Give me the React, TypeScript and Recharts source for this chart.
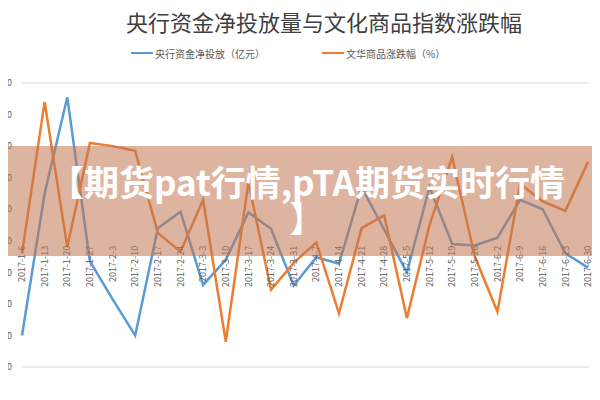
import React from 'react';
import { LineChart, Line, XAxis, YAxis, CartesianGrid } from 'recharts';

const categories = [
  '2017-1-6', '2017-1-13', '2017-1-20', '2017-1-27', '2017-2-3', '2017-2-10',
  '2017-2-17', '2017-2-24', '2017-3-3', '2017-3-10', '2017-3-17', '2017-3-24',
  '2017-3-31', '2017-4-7', '2017-4-14', '2017-4-21', '2017-4-28', '2017-5-5',
  '2017-5-12', '2017-5-19', '2017-5-26', '2017-6-2', '2017-6-9', '2017-6-16',
  '2017-6-23', '2017-6-30',
];

const netInjection = [
  -3000, 1500, 4550, -650, -1850, -3000,
  400, 920, -1400, -600, 900, 380,
  -1420, -520, -730, 1700, 350, -1000,
  1700, -100, -150, 100, 1300, 1000,
  -400, -850,
];

const commodityChange = [
  -0.4, 4.4, -0.2, 3.1, 3.0, 2.85,
  0.25, -0.35, 1.3, -3.2, 1.85, -1.55,
  -0.7, -0.05, -2.3, 0.4, 0.8, -2.45,
  0.5, 2.65, -0.5, -2.25, 1.8, 1.25,
  0.95, 2.5,
];

const leftTicks = [-4000, -3000, -2000, -1000, 0, 1000, 2000, 3000, 4000, 5000];
const rightTicks = [-4, -3, -2, -1, 0, 1, 2, 3, 4, 5];

const seriesNames = ['央行资金净投放（亿元）', '文华商品涨跌幅（%）'];
const titleText = '央行资金净投放量与文化商品指数涨跌幅';
const bannerLine1 = '【期货pat行情,pTA期货实时行情';
const bannerLine2 = '】';

const data = categories.map((d, i) => ({
  date: d,
  net: netInjection[i],
  chg: commodityChange[i],
}));

const BLUE = '#5B9BD5';
const ORANGE = '#ED7D31';
const SHIFT = 20;
const PLOT_TOP = 83;
const PLOT_BOTTOM = 367;
const ZERO_Y = PLOT_TOP + ((PLOT_BOTTOM - PLOT_TOP) * 5) / 9;

const XTick = (props: any) => {
  const { x, payload } = props;
  return (
    <g transform={`translate(${x},${ZERO_Y + 5})`}>
      <text transform="rotate(-90)" textAnchor="end" dy="0.35em" fontSize={9} fill="#595959">
        {payload.value}
      </text>
    </g>
  );
};

const LegendBox = () => (
  <div style={{ position: 'absolute', left: 131, top: 46, height: 14, width: 400, fontSize: 10, color: '#595959' }}>
    {[BLUE, ORANGE].map((c, i) => (
      <div
        key={i}
        style={{
          position: 'absolute',
          left: i === 0 ? 0 : 191,
          top: 0,
          display: 'flex',
          alignItems: 'center',
          whiteSpace: 'nowrap',
          height: 14,
        }}
      >
        <span style={{ display: 'inline-block', width: 22, height: 2.5, background: c, marginRight: 2 }} />
        <span>{seriesNames[i]}</span>
      </div>
    ))}
  </div>
);

export default function App() {
  return (
    <div
      style={{
        position: 'relative',
        width: 600,
        height: 400,
        overflow: 'hidden',
        margin: -8,
        background: '#fff',
        fontFamily: "'Noto Sans CJK SC', sans-serif",
      }}
    >
      <div
        style={{
          position: 'absolute',
          top: 6,
          left: 0,
          width: 648,
          textAlign: 'center',
          fontSize: 22,
          color: '#404040',
          lineHeight: '30px',
        }}
      >
        {titleText}
      </div>
      <LegendBox />
      <div style={{ position: 'absolute', left: -SHIFT, top: 0 }}>
        <LineChart width={640} height={400} data={data} margin={{ top: PLOT_TOP, right: 0, bottom: 400 - PLOT_BOTTOM - 1, left: 0 }}>
          <CartesianGrid vertical={false} stroke="#D9D9D9" />
          <XAxis
            dataKey="date"
            interval={0}
            height={1}
            axisLine={false}
            tickLine={false}
            tick={<XTick />}
            padding={{ left: 0, right: 1 }}
          />
          <YAxis
            yAxisId="left"
            width={42}
            domain={[-4000, 5000]}
            ticks={leftTicks}
            axisLine={false}
            tickLine={false}
            tickSize={0}
            tickMargin={10}
            tick={{ fontSize: 9, fill: '#595959' }}
          />
          <YAxis
            yAxisId="right"
            orientation="right"
            width={31}
            domain={[-4, 5]}
            ticks={rightTicks}
            axisLine={false}
            tickLine={false}
            tickSize={0}
            tickMargin={5}
            tick={{ fontSize: 9, fill: '#595959', textAnchor: 'start' }}
          />
          <Line
            yAxisId="left"
            type="linear"
            dataKey="net"
            stroke={BLUE}
            strokeWidth={2.5}
            dot={false}
            isAnimationActive={false}
          />
          <Line
            yAxisId="right"
            type="linear"
            dataKey="chg"
            stroke={ORANGE}
            strokeWidth={2.5}
            dot={false}
            isAnimationActive={false}
          />
        </LineChart>
      </div>
      <div
        style={{
          position: 'absolute',
          left: 0,
          top: 146,
          width: 600,
          height: 110,
          background: 'rgba(193,119,82,0.55)',
          overflow: 'hidden',
        }}
      >
        <div
          style={{
            position: 'absolute',
            left: 7,
            top: 17,
            width: 600,
            textAlign: 'center',
            color: '#fff',
            fontWeight: 700,
            fontSize: 35,
            lineHeight: '36px',
            whiteSpace: 'nowrap',
          }}
        >
          <div>{bannerLine1}</div>
          <div>{bannerLine2}</div>
        </div>
      </div>
    </div>
  );
}
